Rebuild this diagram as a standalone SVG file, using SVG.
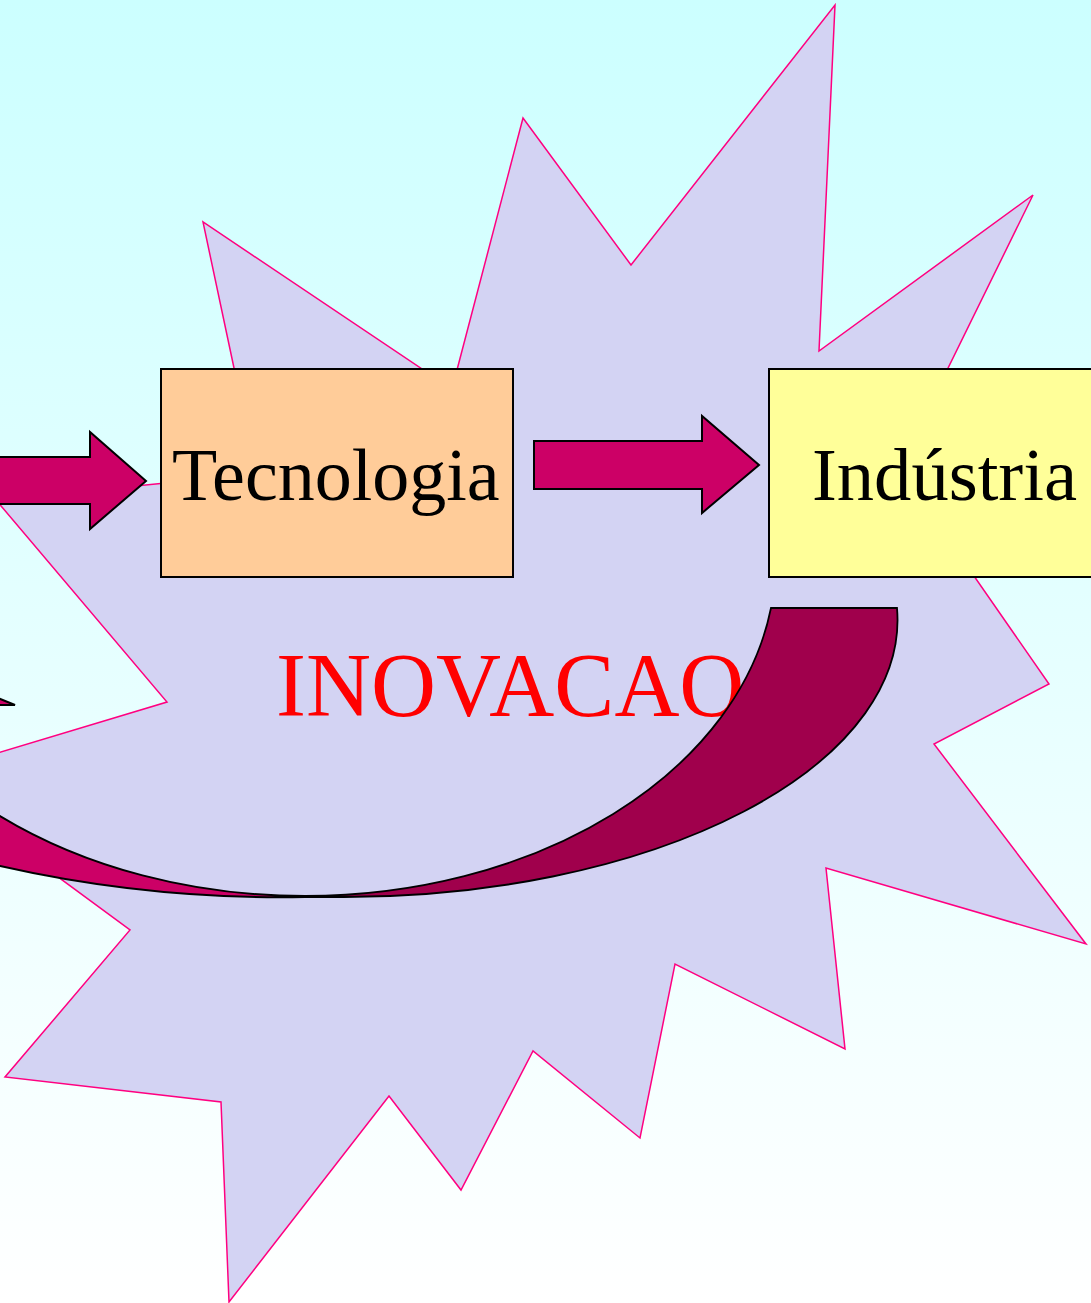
<svg xmlns="http://www.w3.org/2000/svg" width="1091" height="1303" viewBox="0 0 1091 1303">
  <defs>
    <linearGradient id="bg" x1="0" y1="0" x2="0" y2="1">
      <stop offset="0" stop-color="#ccffff"/>
      <stop offset="1" stop-color="#ffffff"/>
    </linearGradient>
    <style>
      .star { fill: #d3d3f3; stroke: #ff0080; stroke-width: 1.5; stroke-linejoin: miter; }
      .box { stroke: #000; stroke-width: 2; }
      .arrow { fill: #cc0066; stroke: #000; stroke-width: 2; stroke-linejoin: miter; }
      .dark { fill: #a0004c; stroke: #000; stroke-width: 1.8; }
      .label { font-family: "Liberation Serif", "Times New Roman", serif; font-size: 74px; fill: #000; }
      .big { font-family: "Liberation Serif", "Times New Roman", serif; font-size: 90px; fill: #ff0000; }
    </style>
  </defs>

  <rect x="0" y="0" width="1091" height="1303" fill="url(#bg)"/>

  <g id="burst">
    <polygon class="star" points="-4,500 257,474 234,368 203,222 452,389 523,118 631,265 835,5 819,351 1033,195 899,468 1049,684 934,744 1086,944 826,868 845,1049 675,964 640,1138 533,1051 461,1190 389,1096 229,1302 221,1102 5,1077 130,930 -79,776 167,702"/>
  </g>

  <g id="connectors">
    <polygon class="arrow" points="-5,457 90,457 90,432 146,481 90,529 90,504 -5,504"/>
    <polygon class="arrow" points="534,441 702,441 702,416 759,465 702,513 702,489 534,489"/>
    <polygon class="arrow" points="-2,698 15,705 -2,705"/>
  </g>

  <g id="node-tecnologia">
    <rect class="box" x="161" y="369" width="352" height="208" fill="#ffcc99"/>
    <text class="label" x="172" y="500">Tecnologia</text>
  </g>

  <g id="node-industria">
    <rect class="box" x="769" y="369" width="330" height="208" fill="#ffff99"/>
    <text class="label" x="812" y="500" textLength="265" lengthAdjust="spacingAndGlyphs">Indústria</text>
  </g>

  <g id="node-inovacao">
    <text class="big" x="276" y="716">INOVACAO</text>
  </g>

  <g id="curved-arrow">
    <path class="arrow" stroke-width="1.8" d="M305,896 A471,336 0 0 1 0,816 L-5,816 L-5,865 L0,866 Q150,900 305,897 Z"/>
    <path class="dark" d="M771,608 L897,608 A554,277 0 0 1 344,897 L305,897 L305,896 A471,336 0 0 0 771,608 Z"/>
  </g>
</svg>
